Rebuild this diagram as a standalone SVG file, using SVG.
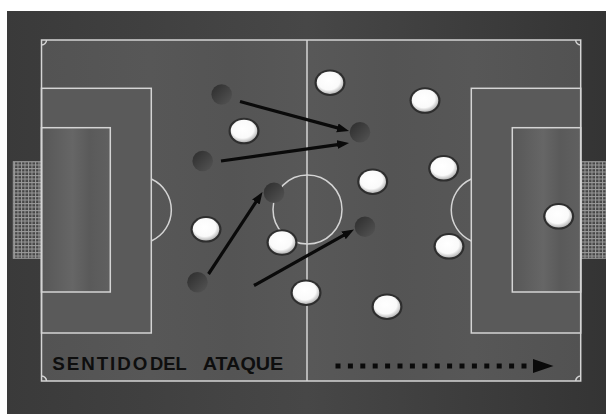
<svg xmlns="http://www.w3.org/2000/svg" width="606" height="414" viewBox="0 0 606 414">
<style>
.ln{fill:none;stroke:#d4d4d4;stroke-width:1.5}
.arr{stroke:#0a0a0a;stroke-width:3.2;fill:none;marker-end:url(#ah)}
.lbl{font-family:"Liberation Sans",Arial,sans-serif;font-weight:bold;font-size:18.8px;fill:#0e0e0e}
.wo{fill:#2e2e2e}
.wi{fill:url(#wg)}
.dk{fill:url(#dg)}
</style>
<defs>
<linearGradient id="bg" x1="0" y1="0" x2="1" y2="0">
<stop offset="0" stop-color="#3a3a3a"/>
<stop offset="0.5" stop-color="#474747"/>
<stop offset="1" stop-color="#343434"/>
</linearGradient>
<linearGradient id="pg" x1="0" y1="0" x2="1" y2="0">
<stop offset="0" stop-color="#535353"/>
<stop offset="0.2" stop-color="#575757"/>
<stop offset="0.35" stop-color="#545454"/>
<stop offset="0.5" stop-color="#585858"/>
<stop offset="0.65" stop-color="#545454"/>
<stop offset="0.8" stop-color="#575757"/>
<stop offset="1" stop-color="#525252"/>
</linearGradient>
<linearGradient id="gb" x1="0" y1="0" x2="1" y2="0">
<stop offset="0" stop-color="#575757"/>
<stop offset="0.45" stop-color="#666"/>
<stop offset="0.7" stop-color="#5a5a5a"/>
<stop offset="1" stop-color="#606060"/>
</linearGradient>
<radialGradient id="cc" cx="0.5" cy="0.5" r="0.5">
<stop offset="0" stop-color="#565656"/>
<stop offset="1" stop-color="#4a4a4a"/>
</radialGradient>
<radialGradient id="wg" cx="0.45" cy="0.4" r="0.6">
<stop offset="0" stop-color="#fff"/>
<stop offset="0.7" stop-color="#fafafa"/>
<stop offset="1" stop-color="#b8b8b8"/>
</radialGradient>
<linearGradient id="dg" x1="0" y1="0" x2="1" y2="1">
<stop offset="0" stop-color="#2c2c2c"/>
<stop offset="1" stop-color="#555"/>
</linearGradient>
<pattern id="net" x="0" y="0" width="3.5" height="3.5" patternUnits="userSpaceOnUse">
<rect width="3.5" height="3.5" fill="#454545"/>
<path d="M0,0.5H3.5M0.5,0V3.5" stroke="#9a9a9a" stroke-width="1"/>
</pattern>
<marker id="ah" markerUnits="userSpaceOnUse" markerWidth="13" markerHeight="10" refX="6" refY="4.5" orient="auto">
<path d="M0,0 L12,4.5 L0,9 z" fill="#0a0a0a"/>
</marker>
</defs>

<g id="field">
<rect x="7" y="11" width="599" height="403" fill="url(#bg)"/>
<rect x="41.5" y="40" width="539" height="341" fill="url(#pg)"/>
<rect x="13.3" y="161.7" width="28.2" height="96.6" fill="url(#net)" stroke="#9a9a9a" stroke-width="1"/>
<rect x="580.7" y="161.7" width="27" height="96.6" fill="url(#net)" stroke="#9a9a9a" stroke-width="1"/>
<rect x="41.5" y="88.3" width="109.8" height="244.7" fill="#5a5a5a"/>
<rect x="41.5" y="127.7" width="68.8" height="164.3" fill="url(#gb)"/>
<rect x="471.3" y="88.3" width="109.4" height="244.7" fill="#5a5a5a"/>
<rect x="512.3" y="127.7" width="68.4" height="164.3" fill="url(#gb)"/>
<circle cx="307.5" cy="209.5" r="34.5" fill="url(#cc)" class="ln"/>
<rect class="ln" x="41.5" y="40" width="539.2" height="341"/>
<line class="ln" x1="307" y1="40" x2="307" y2="381"/>
<rect class="ln" x="41.5" y="88.3" width="109.8" height="244.7"/>
<rect class="ln" x="41.5" y="127.7" width="68.8" height="164.3"/>
<rect class="ln" x="471.3" y="88.3" width="109.4" height="244.7"/>
<rect class="ln" x="512.3" y="127.7" width="68.4" height="164.3"/>
<path class="ln" d="M151.3,179 A34,34 0 0 1 151.3,241"/>
<path class="ln" d="M471.3,179 A34,34 0 0 0 471.3,241"/>
<path class="ln" d="M46.5,40 A5,5 0 0 1 41.5,45"/>
<path class="ln" d="M575.7,40 A5,5 0 0 0 580.7,45"/>
<path class="ln" d="M41.5,376 A5,5 0 0 1 46.5,381"/>
<path class="ln" d="M580.7,376 A5,5 0 0 0 575.7,381"/>
</g>

<g id="label">
<text class="lbl" x="52.3" y="370" textLength="95" lengthAdjust="spacing">SENTIDO</text>
<text class="lbl" x="150" y="370" textLength="36.7" lengthAdjust="spacingAndGlyphs">DEL</text>
<text class="lbl" x="202.7" y="370" textLength="80.6" lengthAdjust="spacingAndGlyphs">ATAQUE</text>
</g>

<g id="opponents">
<g id="d1"><circle class="dk" cx="221.7" cy="94.5" r="10.3"/></g>
<g id="d2"><circle class="dk" cx="202.7" cy="161" r="10.3"/></g>
<g id="d3"><circle class="dk" cx="274" cy="192.7" r="10.3"/></g>
<g id="d4"><circle class="dk" cx="197.5" cy="282.3" r="10.3"/></g>
<g id="d5"><circle class="dk" cx="360" cy="132.3" r="10.3"/></g>
<g id="d6"><circle class="dk" cx="365" cy="226.7" r="10.3"/></g>
</g>

<g id="defenders">
<g id="w1"><ellipse class="wo" cx="244" cy="131" rx="15.5" ry="13.3"/><ellipse class="wi" cx="244" cy="131" rx="13.3" ry="11.2"/></g>
<g id="w2"><ellipse class="wo" cx="330" cy="82.7" rx="15.5" ry="13.3"/><ellipse class="wi" cx="330" cy="82.7" rx="13.3" ry="11.2"/></g>
<g id="w3"><ellipse class="wo" cx="425" cy="100.5" rx="15.5" ry="13.3"/><ellipse class="wi" cx="425" cy="100.5" rx="13.3" ry="11.2"/></g>
<g id="w4"><ellipse class="wo" cx="443.7" cy="168.3" rx="15.5" ry="13.3"/><ellipse class="wi" cx="443.7" cy="168.3" rx="13.3" ry="11.2"/></g>
<g id="w5"><ellipse class="wo" cx="372.7" cy="181.7" rx="15.5" ry="13.3"/><ellipse class="wi" cx="372.7" cy="181.7" rx="13.3" ry="11.2"/></g>
<g id="w6"><ellipse class="wo" cx="206" cy="229.3" rx="15.5" ry="13.3"/><ellipse class="wi" cx="206" cy="229.3" rx="13.3" ry="11.2"/></g>
<g id="w7"><ellipse class="wo" cx="282" cy="242.5" rx="15.5" ry="13.3"/><ellipse class="wi" cx="282" cy="242.5" rx="13.3" ry="11.2"/></g>
<g id="w8"><ellipse class="wo" cx="306" cy="292.7" rx="15.5" ry="13.3"/><ellipse class="wi" cx="306" cy="292.7" rx="13.3" ry="11.2"/></g>
<g id="w9"><ellipse class="wo" cx="449" cy="246.3" rx="15.5" ry="13.3"/><ellipse class="wi" cx="449" cy="246.3" rx="13.3" ry="11.2"/></g>
<g id="w10"><ellipse class="wo" cx="387" cy="306.7" rx="15.5" ry="13.3"/><ellipse class="wi" cx="387" cy="306.7" rx="13.3" ry="11.2"/></g>
<g id="w11"><ellipse class="wo" cx="558.7" cy="216.3" rx="15.5" ry="13.3"/><ellipse class="wi" cx="558.7" cy="216.3" rx="13.3" ry="11.2"/></g>
</g>

<g id="connectors">
<line class="arr" x1="240" y1="101.5" x2="343.2" y2="129.4"/>
<line class="arr" x1="221" y1="161" x2="343.1" y2="143.8"/>
<line class="arr" x1="208.5" y1="274" x2="259.2" y2="197"/>
<line class="arr" x1="254" y1="285.5" x2="348.8" y2="232.4"/>
<line x1="335.5" y1="366" x2="531" y2="366" stroke="#0a0a0a" stroke-width="5" stroke-dasharray="5 7.4"/>
<polygon points="533,359 553.5,366 533,373" fill="#0a0a0a"/>
</g>
</svg>
